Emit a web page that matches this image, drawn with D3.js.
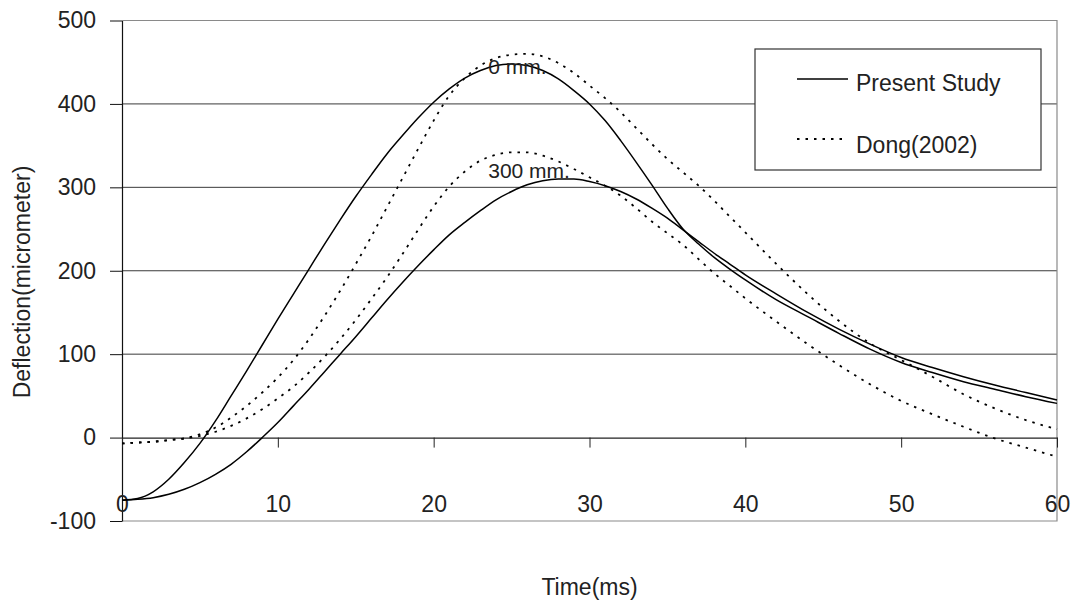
<!DOCTYPE html>
<html>
<head>
<meta charset="utf-8">
<script src="https://cdn.jsdelivr.net/npm/d3@7/dist/d3.min.js"></script>
<style>
  html, body { margin: 0; padding: 0; background: #fff; }
  svg text { font-family: "Liberation Sans", Arial, sans-serif; fill: #222; }
</style>
</head>
<body>
<svg id="chart" width="1078" height="601"></svg>
<script>
// Time samples (ms)
const time = [0,1,2,3,4,5,6,7,8,9,10,11,12,13,14,15,16,17,18,19,20,
  21,22,23,24,25,26,27,28,29,30,31,32,33,34,35,36,37,38,39,40,
  42,44,46,48,50,52,54,56,58,60];

// Present Study, 0 mm
const present0 = [-75,-73,-65,-50,-30,-7,20,50,80,111,142,172,202,232,261,289,315,340,362,383,402,
  418,431,440,446,448,446,440,430,416,400,380,356,330,303,275,250,232,216,202,189,
  165,145,125,106,90,78,67,58,49,41];

// Present Study, 300 mm
const present300 = [-75,-74,-72,-68,-62,-54,-44,-32,-17,0,18,38,58,79,100,121,143,165,186,206,225,
  243,258,272,285,295,303,308,310,310,307,302,295,286,275,263,249,235,221,208,195,
  172,150,130,112,96,84,73,63,54,45];

// Dong (2002), 0 mm
const dong0 = [-7,-6,-5,-3,-1,4,12,24,38,54,72,93,118,146,176,208,241,276,311,346,380,
  410,431,446,455,459,460,457,449,437,422,407,390,371,352,334,318,302,284,265,246,
  208,172,140,113,93,73,52,35,21,10];

// Dong (2002), 300 mm
const dong300 = [-7,-6,-5,-3,-1,2,7,14,23,34,47,61,78,97,118,141,166,192,220,249,277,
  301,319,332,339,342,342,338,331,322,312,302,290,275,259,245,231,214,197,182,167,
  139,112,87,64,44,28,13,-1,-12,-23];

const xTicks = [0,10,20,30,40,50,60];
const yTicks = [-100,0,100,200,300,400,500];
const legendLabels = ["Present Study", "Dong(2002)"];
const curveLabels = [{text: "0 mm.", t: 23.5, v: 436}, {text: "300 mm.", t: 23.5, v: 311}];

const svg = d3.select("#chart");
const x = d3.scaleLinear().domain([0, 60]).range([122, 1057]);
const y = d3.scaleLinear().domain([-100, 500]).range([521, 20.5]);

// Horizontal gridlines
svg.append("g").selectAll("line")
  .data(yTicks.filter(v => v > 0 && v < 500))
  .join("line")
  .attr("x1", x(0)).attr("x2", x(60))
  .attr("y1", d => y(d)).attr("y2", d => y(d))
  .attr("stroke", "#3a3a3a").attr("stroke-width", 1);

// Plot frame: top, right, bottom
svg.append("path")
  .attr("d", `M${x(0)},${y(500)}H${x(60)}V${y(-100)}H${x(0)}`)
  .attr("fill", "none").attr("stroke", "#8a8a8a").attr("stroke-width", 1.2);

// Y axis with ticks on the left
const yAxis = svg.append("g")
  .attr("transform", `translate(${x(0)},0)`)
  .call(d3.axisLeft(y).tickValues(yTicks).tickSize(12).tickPadding(14).tickSizeOuter(0)
    .tickFormat(d => String(d)));
yAxis.select(".domain").attr("stroke", "#111").attr("stroke-width", 1.2);
yAxis.selectAll(".tick line").attr("stroke", "#111");
yAxis.selectAll(".tick text")
  .attr("font-size", 23).attr("fill", "#222")
  .style("font-family", "'Liberation Sans', Arial, sans-serif");

// X axis drawn along zero deflection, ticks pointing down
const xAxis = svg.append("g")
  .attr("transform", `translate(0,${y(0)})`)
  .call(d3.axisBottom(x).tickValues(xTicks).tickSize(10).tickSizeOuter(0)
    .tickFormat(d => String(d)));
xAxis.select(".domain").attr("stroke", "#222").attr("stroke-width", 1.2);
xAxis.selectAll(".tick line").attr("stroke", "#222");
xAxis.selectAll(".tick text")
  .attr("font-size", 23).attr("fill", "#222")
  .attr("y", 74).attr("dy", 0)
  .style("font-family", "'Liberation Sans', Arial, sans-serif");

// Axis titles
svg.append("text")
  .attr("x", (x(0) + x(60)) / 2).attr("y", 595)
  .attr("text-anchor", "middle").attr("font-size", 23)
  .text("Time(ms)");
svg.append("text")
  .attr("transform", "translate(30,282) rotate(-90)")
  .attr("text-anchor", "middle").attr("font-size", 23)
  .text("Deflection(micrometer)");

// Curves
const line = d3.line()
  .x((d, i) => x(time[i]))
  .y(d => y(d))
  .curve(d3.curveMonotoneX);

const series = [
  {values: dong0, dash: "2.5,6"},
  {values: dong300, dash: "2.5,6"},
  {values: present0, dash: null},
  {values: present300, dash: null}
];

svg.append("g").selectAll("path")
  .data(series)
  .join("path")
  .attr("d", d => line(d.values))
  .attr("fill", "none")
  .attr("stroke", "#000")
  .attr("stroke-width", d => d.dash ? 1.8 : 1.5)
  .attr("stroke-dasharray", d => d.dash);

// Curve annotations
svg.append("g").selectAll("text")
  .data(curveLabels)
  .join("text")
  .attr("x", d => x(d.t)).attr("y", d => y(d.v))
  .attr("font-size", 21).attr("fill", "#333")
  .text(d => d.text);

// Legend
const legend = svg.append("g");
legend.append("rect")
  .attr("x", 755).attr("y", 49).attr("width", 286).attr("height", 121)
  .attr("fill", "#fff").attr("stroke", "#333").attr("stroke-width", 1.2);
const entries = [
  {label: legendLabels[0], dash: null, ly: 79, ty: 91},
  {label: legendLabels[1], dash: "2.5,6", ly: 139, ty: 153}
];
entries.forEach(e => {
  legend.append("line")
    .attr("x1", 797).attr("x2", 848).attr("y1", e.ly).attr("y2", e.ly)
    .attr("stroke", "#000").attr("stroke-width", e.dash ? 1.8 : 1.5)
    .attr("stroke-dasharray", e.dash);
  legend.append("text")
    .attr("x", 856).attr("y", e.ty).attr("font-size", 23)
    .text(e.label);
});
</script>
</body>
</html>
